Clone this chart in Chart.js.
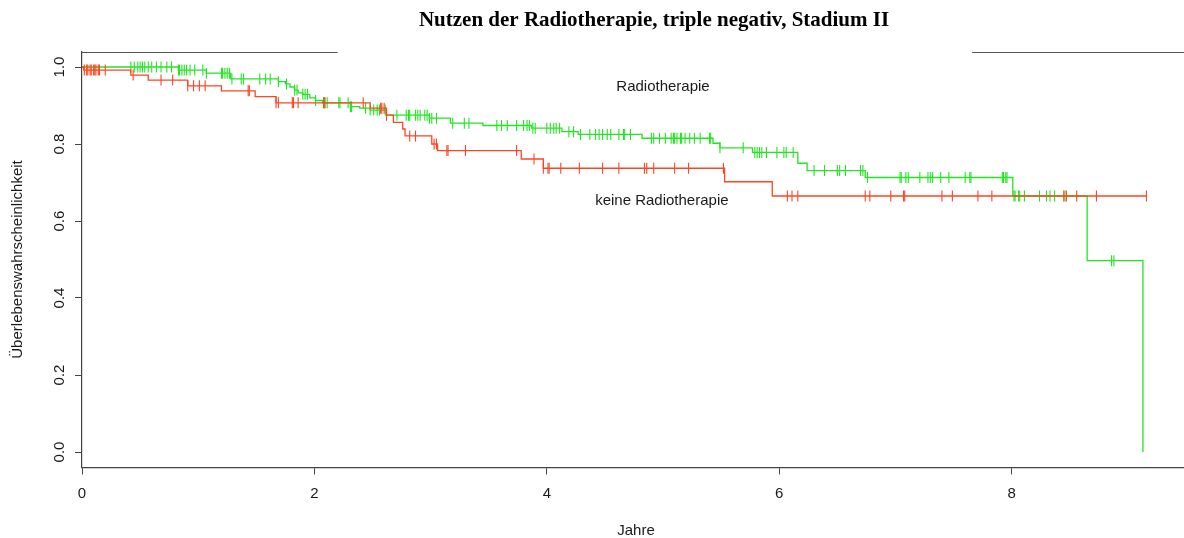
<!DOCTYPE html>
<html><head><meta charset="utf-8">
<script src="https://cdn.jsdelivr.net/npm/chart.js@4.4.1/dist/chart.umd.min.js"></script>
<style>
html,body{margin:0;padding:0;overflow:hidden;background:#fff;width:1184px;height:538px}
#wrap{position:absolute;left:0;top:0;width:1308px;height:538px}
</style></head><body><div id="wrap"><canvas id="c"></canvas></div>
<script>
// ---- texts ----
const titleText = "Nutzen der Radiotherapie, triple negativ, Stadium II";
const xTitle = "Jahre";
const yTitle = "Überlebenswahrscheinlichkeit";
const groupNames = ["Radiotherapie", "keine Radiotherapie"];
const xTicks = [0, 2, 4, 6, 8];
const yTicks = [0, 0.2, 0.4, 0.6, 0.8, 1.0];

// ---- Radiotherapie (green): step times & survival ----
const rtTimes = [0, 0.83, 1.07, 1.28, 1.69, 1.75, 1.79, 1.83, 1.86, 1.90, 1.96, 2.01, 2.07, 2.31, 2.39, 2.48, 2.62, 2.99, 3.17, 3.45, 3.87, 4.13, 4.27, 4.82, 5.43, 5.49, 5.77, 6.16, 6.24, 6.74, 8.01, 8.65, 9.13];
const rtSurv  = [1.0, 0.992, 0.984, 0.969, 0.962, 0.956, 0.948, 0.940, 0.933, 0.929, 0.920, 0.913, 0.907, 0.897, 0.893, 0.888, 0.875, 0.867, 0.854, 0.848, 0.841, 0.832, 0.825, 0.815, 0.802, 0.790, 0.778, 0.750, 0.731, 0.713, 0.665, 0.497, 0.0];
const rtCensor = [0.42,0.45,0.48,0.50,0.52,0.54,0.57,0.60,0.64,0.68,0.73,0.77,0.83,0.84,0.86,0.88,0.90,0.93,0.97,1.04,1.07,1.20,1.21,1.23,1.25,1.27,1.29,1.37,1.39,1.53,1.58,1.62,1.69,1.76,1.83,1.85,1.90,1.92,1.94,2.01,2.08,2.09,2.11,2.21,2.22,2.29,2.31,2.32,2.44,2.48,2.51,2.54,2.56,2.61,2.71,2.79,2.81,2.82,2.87,2.89,2.91,2.95,2.97,2.99,3.01,3.05,3.19,3.29,3.33,3.57,3.61,3.66,3.74,3.80,3.83,3.85,3.88,3.90,4.00,4.03,4.06,4.08,4.11,4.19,4.23,4.29,4.37,4.42,4.45,4.48,4.52,4.55,4.62,4.66,4.67,4.72,4.90,4.92,4.97,5.02,5.07,5.09,5.10,5.12,5.15,5.16,5.19,5.23,5.27,5.32,5.40,5.41,5.49,5.69,5.79,5.81,5.83,5.85,5.89,5.98,6.04,6.06,6.12,6.30,6.39,6.50,6.52,6.57,6.70,6.72,6.76,7.04,7.05,7.09,7.11,7.21,7.28,7.30,7.32,7.39,7.46,7.60,7.64,7.65,7.92,7.93,7.95,7.96,8.02,8.03,8.06,8.07,8.11,8.24,8.30,8.33,8.37,8.45,8.47,8.86,8.88];

// ---- keine Radiotherapie (red): step times & survival ----
const noRtTimes = [0, 0.015, 0.42, 0.57, 0.91, 1.20, 1.49, 1.67, 2.48, 2.62, 2.68, 2.76, 2.78, 3.01, 3.06, 3.78, 3.97, 5.53, 5.94, 9.16];
const noRtSurv  = [1.0, 0.992, 0.979, 0.966, 0.951, 0.938, 0.923, 0.907, 0.893, 0.875, 0.856, 0.839, 0.821, 0.800, 0.783, 0.761, 0.737, 0.702, 0.665, 0.665];
const noRtCensor = [0.02,0.04,0.05,0.07,0.08,0.10,0.11,0.12,0.14,0.15,0.20,0.44,0.68,0.78,0.91,0.96,1.01,1.06,1.43,1.44,1.67,1.69,1.81,1.82,1.86,2.08,2.09,2.42,2.57,2.58,2.60,2.62,2.82,2.87,3.03,3.05,3.14,3.15,3.30,3.74,3.89,3.97,4.01,4.02,4.12,4.28,4.48,4.62,4.84,4.86,4.92,5.10,5.22,5.52,6.07,6.11,6.16,6.74,6.78,6.96,7.07,7.08,7.40,7.49,7.71,7.83,8.45,8.47,8.56,8.73,9.16];

const GREEN = '#22E622';
const RED = '#FF4422';
const FONT = "'Liberation Sans', Arial, sans-serif";

function survAt(times, surv, t) {
  let v = surv[0];
  for (let i = 0; i < times.length; i++) if (times[i] <= t) v = surv[i];
  return v;
}
const stepPoints = (times, surv) => times.map((t, i) => ({x: t, y: surv[i]}));
const censorPoints = (cens, times, surv) => cens.map(t => ({x: t, y: survAt(times, surv, t)}));

const overlay = {
  id: 'overlay',
  afterDraw(chart) {
    const {ctx, chartArea: a, scales: {x, y}} = chart;
    ctx.save();
    // top frame segments (gap in the middle as in the reference)
    ctx.strokeStyle = '#555'; ctx.lineWidth = 1.2;
    ctx.beginPath();
    const ty = Math.round(a.top) + 0.5;
    ctx.moveTo(a.left, ty); ctx.lineTo(x.getPixelForValue(2.2), ty);
    ctx.moveTo(x.getPixelForValue(7.66), ty); ctx.lineTo(a.right, ty);
    ctx.stroke();
    // y tick labels, rotated like R
    ctx.fillStyle = '#1a1a1a';
    ctx.font = '15px ' + FONT;
    ctx.textAlign = 'center'; ctx.textBaseline = 'alphabetic';
    yTicks.forEach(v => {
      const py = y.getPixelForValue(v);
      ctx.save();
      ctx.translate(a.left - 18, py);
      ctx.rotate(-Math.PI / 2);
      ctx.fillText(v.toFixed(1), 0, 0);
      ctx.restore();
    });
    // group labels in data coordinates
    ctx.textBaseline = 'middle';
    ctx.fillText(groupNames[0], x.getPixelForValue(5.0), y.getPixelForValue(0.948));
    ctx.fillText(groupNames[1], x.getPixelForValue(4.99), y.getPixelForValue(0.652));
    ctx.restore();
  }
};

new Chart(document.getElementById('c'), {
  type: 'scatter',
  data: {
    datasets: [
      {label: groupNames[1] + ' Zensur', data: censorPoints(noRtCensor, noRtTimes, noRtSurv), showLine: false,
       pointStyle: 'line', rotation: 90, radius: 5.5, borderColor: RED, borderWidth: 1.1, order: 0},
      {label: groupNames[1], data: stepPoints(noRtTimes, noRtSurv), showLine: true, stepped: 'before',
       borderColor: RED, borderWidth: 1.3, pointRadius: 0, fill: false, order: 1},
      {label: groupNames[0] + ' Zensur', data: censorPoints(rtCensor, rtTimes, rtSurv), showLine: false,
       pointStyle: 'line', rotation: 90, radius: 5.5, borderColor: GREEN, borderWidth: 1.1, order: 2},
      {label: groupNames[0], data: stepPoints(rtTimes, rtSurv), showLine: true, stepped: 'before',
       borderColor: GREEN, borderWidth: 1.3, pointRadius: 0, fill: false, order: 3}
    ]
  },
  options: {
    responsive: true, maintainAspectRatio: false, animation: false, devicePixelRatio: 1,
    events: [],
    layout: {padding: {left: 0, right: 0, top: 0, bottom: 0}},
    plugins: {
      legend: {display: false}, tooltip: {enabled: false},
      title: {display: true, text: titleText, color: '#000',
              font: {family: "'Liberation Serif', 'Times New Roman', serif", size: 21, weight: 'bold', lineHeight: 1.2},
              padding: {top: 8.4, bottom: 18}}
    },
    scales: {
      x: {
        type: 'linear', min: 0, max: 9.535,
        afterBuildTicks: s => { s.ticks = xTicks.map(v => ({value: v})); },
        afterFit: s => { s.height = 70.6; },
        grid: {display: true, drawOnChartArea: false, drawTicks: true, tickLength: 7, color: '#444', lineWidth: 1},
        border: {display: true, color: '#444', width: 1.2},
        ticks: {color: '#1a1a1a', font: {family: FONT, size: 15}, padding: 10, maxRotation: 0, autoSkip: false,
                callback: v => String(v)},
        title: {display: true, text: xTitle, color: '#1a1a1a', font: {family: FONT, size: 15, lineHeight: 1},
                padding: {top: 0, bottom: 0}}
      },
      y: {
        type: 'linear', min: -0.04, max: 1.04,
        afterBuildTicks: s => { s.ticks = yTicks.map(v => ({value: v})); },
        afterFit: s => { s.width = 82; },
        grid: {display: true, drawOnChartArea: false, drawTicks: true, tickLength: 7, color: '#444', lineWidth: 1},
        border: {display: true, color: '#444', width: 1.2},
        ticks: {display: false},
        title: {display: true, text: yTitle, color: '#1a1a1a', font: {family: FONT, size: 15, lineHeight: 1},
                padding: {top: 10.5, bottom: 0}}
      },
      rightMargin: {
        type: 'linear', position: 'right', display: true, min: 0, max: 1,
        afterFit: s => { s.width = 118; },
        grid: {display: false, drawTicks: false}, border: {display: false},
        ticks: {display: false}, title: {display: false}
      }
    }
  },
  plugins: [overlay]
});
</script></body></html>
